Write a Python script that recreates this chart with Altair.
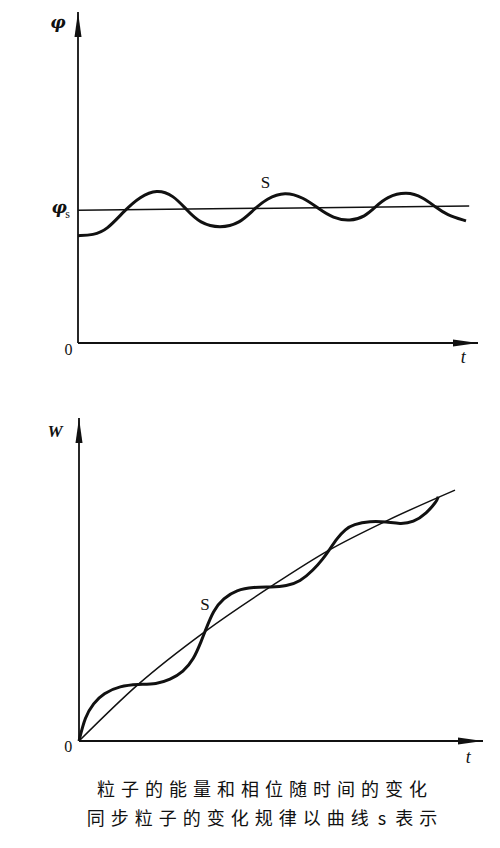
import altair as alt
import pandas as pd

# ---------------- data ----------------
# top panel: phase phi vs time t
phi_t = [0.0, 0.38, 0.72, 1.175, 1.55, 1.97, 2.38, 2.72, 3.05, 3.55, 4.05, 4.38, 4.72,
         5.175, 5.63, 6.01, 6.38, 6.8, 7.175, 7.425, 7.72, 8.22, 8.63, 8.925, 9.22, 9.7]
phi_v = [3.25, 3.27, 3.42, 4.03, 4.43, 4.66, 4.48, 4.03, 3.63, 3.47, 3.63, 4.03, 4.38,
         4.59, 4.41, 4.08, 3.78, 3.69, 3.83, 4.11, 4.43, 4.59, 4.41, 4.13, 3.88, 3.70]
phis_t = [0.0, 9.78]
phis_v = [4.02, 4.15]

# bottom panel: energy W vs time t
w_t = [0, 0.15, 0.36, 0.61, 1.025, 1.48, 1.94, 2.275, 2.61, 2.86, 3.07, 3.15, 3.36, 3.61,
       3.94, 4.36, 4.8, 5.19, 5.525, 5.86, 6.11, 6.23, 6.46, 6.66, 6.86, 7.275, 7.69,
       8.025, 8.36, 8.69, 8.94, 8.98]
w_v = [0, 0.76, 1.18, 1.49, 1.72, 1.77, 1.78, 1.91, 2.17, 2.53, 3.16, 3.42, 4.09, 4.46,
       4.72, 4.81, 4.81, 4.84, 4.98, 5.34, 5.71, 5.92, 6.35, 6.62, 6.77, 6.875, 6.85,
       6.78, 6.83, 7.12, 7.48, 7.63]
ws_t = [0, 1.48, 3.15, 4.8, 6.23, 7.69, 9.4]
ws_v = [0, 1.77, 3.42, 4.83, 5.95, 6.88, 7.84]

# axis extents (t end, value end)
top_axis_end = [10.0, 10.03]
bot_axis_end = [10.1, 10.09]

# labels: text, t, value
top_labels = ["φ", "0", "t", "S"]
top_lab_t = [-0.5, -0.24, 9.63, 4.69]
top_lab_v = [9.7, -0.21, -0.45, 4.84]
phis_label = ["φ", "s"]
phis_lab_t = [-0.47, -0.26]
phis_lab_v = [4.09, 3.92]

bot_labels = ["W", "0", "t", "S"]
bot_lab_t = [-0.6, -0.27, 9.73, 3.15]
bot_lab_v = [9.66, -0.18, -0.53, 4.25]

caption1 = "粒子的能量和相位随时间的变化"
caption2_a = "同步粒子的变化规律以曲线"
caption2_b = "表示"

INK = "#111111"
SEP = "\u2004"

UP = "M0,0L0.28,2L-0.28,2Z"
RIGHT = "M0,0L-2,-0.28L-2,0.28Z"


def panel(width, height, xdom, ydom, curve_t, curve_v, ref_t, ref_v, ref_interp,
          axis_end, labels, lab_t, lab_v, ylab_font):
    xs = alt.Scale(domain=xdom, nice=False, zero=False)
    ys = alt.Scale(domain=ydom, nice=False, zero=False)
    X = alt.X("t:Q", scale=xs, axis=None)
    Y = alt.Y("v:Q", scale=ys, axis=None)

    axes_df = pd.DataFrame({
        "t": [0, 0, 0, axis_end[0]],
        "v": [axis_end[1], 0, 0, 0],
        "seg": ["y", "y", "x", "x"],
    })
    axes = alt.Chart(axes_df).mark_line(color=INK, strokeWidth=1.8).encode(
        x=X, y=Y, detail="seg:N")

    up_df = pd.DataFrame({"t": [0], "v": [axis_end[1]]})
    up = alt.Chart(up_df).mark_point(shape=UP, filled=True, size=625, color=INK,
                                     opacity=1).encode(x=X, y=Y)
    rt_df = pd.DataFrame({"t": [axis_end[0]], "v": [0]})
    rt = alt.Chart(rt_df).mark_point(shape=RIGHT, filled=True, size=625, color=INK,
                                     opacity=1).encode(x=X, y=Y)

    ref_df = pd.DataFrame({"t": ref_t, "v": ref_v})
    ref = alt.Chart(ref_df).mark_line(color=INK, strokeWidth=1.5,
                                      interpolate=ref_interp).encode(x=X, y=Y)

    cur_df = pd.DataFrame({"t": curve_t, "v": curve_v})
    cur = alt.Chart(cur_df).mark_line(color=INK, strokeWidth=3,
                                      interpolate="basis").encode(x=X, y=Y)

    lab_layers = []
    styles = [
        dict(font=ylab_font, fontStyle="italic", fontWeight="bold", fontSize=17),
        dict(font="Liberation Serif", fontSize=16),
        dict(font="Liberation Serif", fontStyle="italic", fontSize=18),
        dict(font="Liberation Serif", fontSize=17),
    ]
    for txt, tt, vv, st in zip(labels, lab_t, lab_v, styles):
        d = pd.DataFrame({"t": [tt], "v": [vv], "s": [txt]})
        lab_layers.append(alt.Chart(d).mark_text(color=INK, align="center",
                                                  baseline="middle", **st).encode(
            x=X, y=Y, text="s:N"))

    return alt.layer(axes, up, rt, ref, cur, *lab_layers).properties(
        width=width, height=height), X, Y


top, Xt, Yt = panel(484, 364, [-1.75, 10.35], [-0.879, 10.15], phi_t, phi_v,
                    phis_t, phis_v, "linear", top_axis_end,
                    top_labels, top_lab_t, top_lab_v, "DejaVu Serif")

phis_df1 = pd.DataFrame({"t": [phis_lab_t[0]], "v": [phis_lab_v[0]], "s": [phis_label[0]]})
phis_df2 = pd.DataFrame({"t": [phis_lab_t[1]], "v": [phis_lab_v[1]], "s": [phis_label[1]]})
phis_a = alt.Chart(phis_df1).mark_text(color=INK, font="DejaVu Serif", fontStyle="italic",
                                       fontWeight="bold", fontSize=17,
                                       baseline="middle").encode(x=Xt, y=Yt, text="s:N")
phis_b = alt.Chart(phis_df2).mark_text(color=INK, font="Liberation Serif", fontSize=12,
                                       baseline="middle").encode(x=Xt, y=Yt, text="s:N")
top = alt.layer(top, phis_a, phis_b)

bottom, _, _ = panel(484, 390, [-1.775, 10.325], [-0.906, 11.28], w_t, w_v,
                     ws_t, ws_v, "monotone", bot_axis_end,
                     bot_labels, bot_lab_t, bot_lab_v, "Liberation Serif")

cap1 = SEP.join(caption1)
cap2 = SEP.join(caption2_a) + "\u2002s\u2002" + SEP.join(caption2_b)

chart = alt.vconcat(top, bottom, spacing=8).properties(
    padding=0,
    background="white",
    title=alt.TitleParams(text=[cap1, cap2], orient="bottom", anchor="middle",
                          font="Noto Sans CJK SC", fontSize=18, fontWeight="normal",
                          color=INK, lineHeight=29, offset=12, dx=12, baseline="top"),
).configure_view(stroke=None)

chart.save("out.html", embed_options={"renderer": "svg", "actions": False})
